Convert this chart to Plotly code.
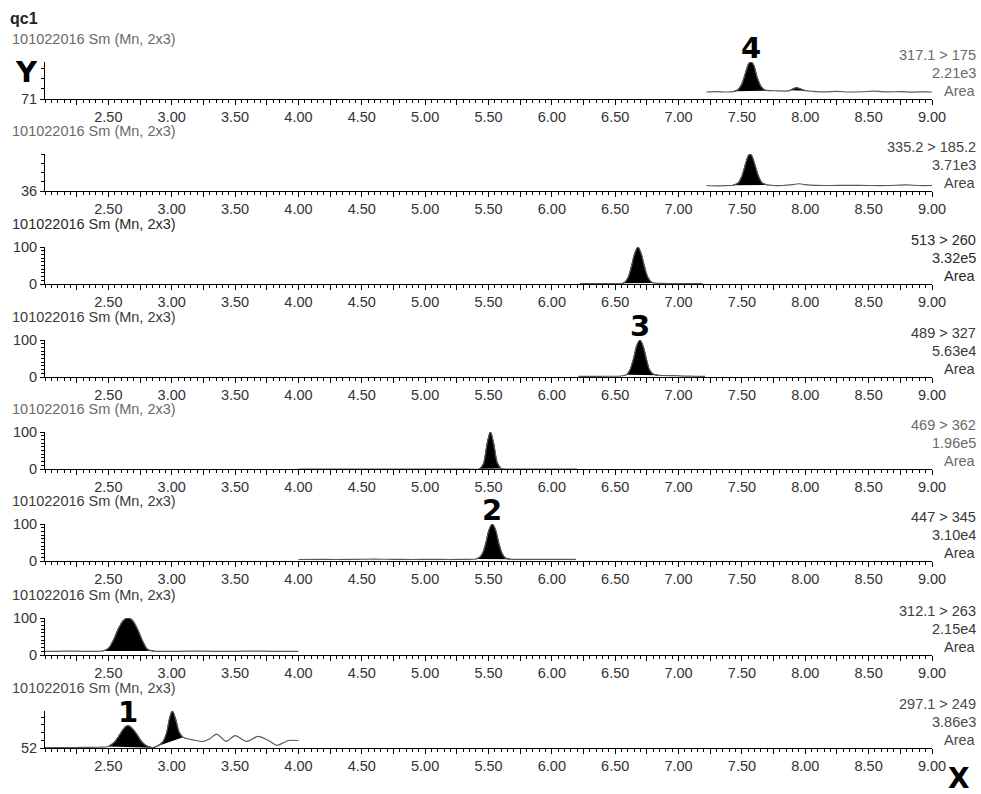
import plotly.graph_objects as go

# ---------------------------------------------------------------------------
# MRM chromatograms, sample qc1 (retention time in minutes, relative intensity)
# ---------------------------------------------------------------------------
sample_name = "qc1"
run_header = "101022016 Sm (Mn, 2x3)"

transitions = ["317.1 > 175", "335.2 > 185.2", "513 > 260", "489 > 327",
               "469 > 362", "447 > 345", "312.1 > 263", "297.1 > 249"]
areas = ["2.21e3", "3.71e3", "3.32e5", "5.63e4", "1.96e5", "3.10e4", "2.15e4", "3.86e3"]
axis_floor = [71, 36, 0, 0, 0, 0, 0, 52]

x_tick_labels = ["2.50", "3.00", "3.50", "4.00", "4.50", "5.00", "5.50",
                 "6.00", "6.50", "7.00", "7.50", "8.00", "8.50", "9.00"]

# 317.1 > 175
t_317 = [7.22, 7.30, 7.38, 7.44, 7.47, 7.50, 7.53, 7.555, 7.575, 7.595, 7.62, 7.65,
         7.68, 7.72, 7.78, 7.84, 7.88, 7.91, 7.935, 7.96, 8.00, 8.06, 8.15, 8.25,
         8.35, 8.45, 8.55, 8.65, 8.75, 8.85, 8.95, 9.00]
i_317 = [76.5, 76.8, 76.5, 77.0, 78.5, 83, 92, 99, 100, 97, 88, 81,
         78, 77.6, 77.4, 77.2, 77.8, 79.3, 79.8, 79, 77.5, 77, 76.6, 76.9,
         76.5, 76.7, 77.1, 76.6, 76.8, 76.4, 76.6, 76.5]
peaks_317 = [(7.44, 7.72), (7.88, 8.00)]

# 335.2 > 185.2
t_335 = [7.22, 7.30, 7.38, 7.43, 7.47, 7.50, 7.53, 7.55, 7.565, 7.58, 7.60, 7.63,
         7.66, 7.70, 7.75, 7.82, 7.90, 7.95, 8.00, 8.08, 8.20, 8.35, 8.50, 8.65,
         8.80, 8.90, 9.00]
i_335 = [45.5, 45, 45.5, 46, 50, 62, 84, 97, 100, 96, 83, 62,
         50, 46.5, 45.5, 45.5, 47, 48.5, 47, 45.8, 45.5, 45.8, 45.5, 45.5,
         46.5, 45.5, 45.5]
peaks_335 = [(7.43, 7.70)]

# 513 > 260
t_513 = [6.22, 6.35, 6.48, 6.56, 6.58, 6.605, 6.63, 6.655, 6.68, 6.705, 6.73,
         6.755, 6.78, 6.80, 6.86, 6.95, 7.05, 7.19]
i_513 = [1, 1, 1.2, 2, 6, 20, 50, 84, 100, 82, 48,
         20, 7, 3, 1.5, 1.2, 1, 1]
peaks_513 = [(6.56, 6.80)]

# 489 > 327
t_489 = [6.21, 6.32, 6.44, 6.54, 6.59, 6.615, 6.645, 6.67, 6.695, 6.72, 6.745,
         6.77, 6.80, 6.84, 6.90, 6.97, 7.05, 7.13, 7.21]
i_489 = [1.5, 1.8, 2, 2.5, 6, 18, 50, 85, 100, 84, 50,
         20, 8, 4.5, 4, 3.5, 2.5, 2, 1.5]
peaks_489 = [(6.59, 6.84)]

# 469 > 362
t_469 = [4.00, 4.40, 4.80, 5.10, 5.30, 5.43, 5.46, 5.49, 5.515, 5.54, 5.57,
         5.60, 5.65, 5.80, 6.00, 6.20]
i_469 = [0, 0, 0, 0, 0, 0.5, 14, 70, 100, 70, 16,
         1.5, 0, 0, 0, 0]
peaks_469 = [(5.43, 5.60)]

# 447 > 345
t_447 = [4.00, 4.15, 4.30, 4.45, 4.60, 4.75, 4.90, 5.05, 5.20, 5.32, 5.40, 5.43,
         5.455, 5.48, 5.505, 5.53, 5.555, 5.58, 5.605, 5.63, 5.67, 5.75, 5.85,
         5.95, 6.10, 6.19]
i_447 = [4, 4.5, 4, 4.5, 5, 4.5, 4, 4.5, 4, 4.5, 5.5, 10,
         22, 50, 85, 100, 85, 50, 22, 9, 5, 4.5, 4.5,
         4.5, 4.5, 4.5]
peaks_447 = [(5.40, 5.67)]

# 312.1 > 263
t_312 = [2.00, 2.10, 2.20, 2.30, 2.40, 2.46, 2.50, 2.54, 2.58, 2.62, 2.655, 2.69,
         2.73, 2.77, 2.81, 2.86, 2.95, 3.05, 3.20, 3.35, 3.50, 3.65, 3.80, 3.90, 4.00]
i_312 = [10, 10, 10.5, 10, 10, 11, 18, 40, 72, 94, 100, 94,
         70, 38, 15, 10.5, 10, 10, 10.5, 10, 10, 10.5, 10, 10, 10]
peaks_312 = [(2.46, 2.86)]

# 297.1 > 249
t_297 = [2.00, 2.15, 2.30, 2.42, 2.50, 2.55, 2.60, 2.63, 2.655, 2.68, 2.72, 2.76,
         2.80, 2.85, 2.89, 2.93, 2.96, 2.985, 3.005, 3.03, 3.06, 3.09, 3.17, 3.25,
         3.30, 3.355, 3.43, 3.50, 3.59, 3.68, 3.76, 3.83, 3.92, 4.00]
i_297 = [52.5, 52.5, 52.8, 53, 54, 60, 72, 79, 81, 79, 71, 61,
         55, 52.3, 55, 60, 72, 92, 100, 90, 72, 66, 62.5, 60.5,
         64, 70, 60.5, 68, 60.5, 67, 62, 55.5, 61.7, 61.7]
peaks_297 = [(2.50, 2.85), (2.85, 3.09)]

channel_times = [t_317, t_335, t_513, t_489, t_469, t_447, t_312, t_297]
channel_intensity = [i_317, i_335, i_513, i_489, i_469, i_447, i_312, i_297]
channel_peaks = [peaks_317, peaks_335, peaks_513, peaks_489, peaks_469, peaks_447,
                 peaks_312, peaks_297]

# compound numbers marked above their peaks (channel index, retention time)
compound_ids = ["4", "3", "2", "1"]
compound_channel = [0, 3, 5, 7]
compound_rt = [7.575, 6.695, 5.53, 2.655]

# ---------------------------------------------------------------------------
# page geometry and styling
# ---------------------------------------------------------------------------
W, H = 981, 794
x_left_px, x_right_px = 45, 932
baseline_px = [99, 191, 284, 377, 469, 561, 655, 748]
panel_px = 37
y_minor_step = [8, 16, 10, 10, 10, 10, 10, 10]
header_color = ["#6a6a6a", "#6a6a6a", "#2a2a2a", "#3a3a3a", "#6a6a6a", "#3a3a3a", "#3a3a3a", "#4a4a4a"]
info_color = ["#6a6a6a", "#444444", "#2a2a2a", "#3a3a3a", "#6a6a6a", "#3a3a3a", "#3a3a3a", "#4a4a4a"]
FONT = "Liberation Sans, Arial, sans-serif"
BOLD = "DejaVu Sans, Verdana, sans-serif"

fig = go.Figure()
layout = dict(
    template="none",
    width=W, height=H, margin=dict(l=0, r=0, t=0, b=0, pad=0), autosize=False,
    paper_bgcolor="white", plot_bgcolor="white", showlegend=False,
    font=dict(family=FONT, size=14.5, color="#333333"),
)

x_tick_vals = [2.25 + 0.25 * k for k in range(28)]
label_map = {float(s): s for s in x_tick_labels}
x_tick_text = [label_map.get(round(v, 2), "") for v in x_tick_vals]

annotations = []
for k in range(8):
    n = k + 1
    xname = "x" if n == 1 else f"x{n}"
    yname = "y" if n == 1 else f"y{n}"
    base = baseline_px[k]
    ydom = [1 - base / H, 1 - (base - panel_px) / H]

    layout["xaxis" if n == 1 else f"xaxis{n}"] = dict(
        domain=[x_left_px / W, x_right_px / W], range=[2.0, 9.0], anchor=yname,
        automargin=False,
        showline=True, linecolor="black", linewidth=1, showgrid=False, zeroline=False,
        ticks="outside", ticklen=5, tickwidth=1, tickcolor="black",
        tickmode="array", tickvals=x_tick_vals, ticktext=x_tick_text,
        tickfont=dict(family=FONT, size=14.5, color="#333333"),
        minor=dict(ticks="outside", ticklen=3, tickwidth=1, tickcolor="black",
                   tickmode="linear", tick0=2.0, dtick=0.05, showgrid=False),
        fixedrange=True,
    )
    floor = axis_floor[k]
    if floor == 0:
        yvals, ytext = [0, 100], ["0", "100"]
    else:
        yvals, ytext = [floor], [str(floor)]
    layout["yaxis" if n == 1 else f"yaxis{n}"] = dict(
        domain=ydom, range=[floor, 100], anchor=xname,
        automargin=False,
        showline=True, linecolor="black", linewidth=1, showgrid=False, zeroline=False,
        ticks="outside", ticklen=4, tickwidth=1, tickcolor="black",
        tickmode="array", tickvals=yvals, ticktext=ytext,
        tickfont=dict(family=FONT, size=14.5, color="#333333"),
        minor=dict(ticks="outside", ticklen=3, tickwidth=1, tickcolor="black",
                   tickmode="linear", tick0=floor, dtick=y_minor_step[k], showgrid=False),
        fixedrange=True,
    )

    t = channel_times[k]
    inten = channel_intensity[k]

    # integrated peaks: trace segment closed by its straight baseline
    for (t0, t1) in channel_peaks[k]:
        seg = [(a, b) for a, b in zip(t, inten) if t0 - 1e-9 <= a <= t1 + 1e-9]
        fig.add_trace(go.Scatter(
            x=[p[0] for p in seg], y=[p[1] for p in seg], xaxis=xname, yaxis=yname,
            mode="lines", line=dict(color="black", width=1, shape="spline", smoothing=0.8),
            fill="toself", fillcolor="black", hoverinfo="skip",
        ))

    # full chromatogram trace
    fig.add_trace(go.Scatter(
        x=t, y=inten, xaxis=xname, yaxis=yname, mode="lines",
        line=dict(color="#5a5a5a", width=1.2, shape="spline", smoothing=0.8),
        hoverinfo="skip",
    ))

    # header line above each panel
    annotations.append(dict(
        xref="paper", yref="paper", x=10 / W, y=1 - (base - 60) / H,
        xanchor="left", yanchor="middle", showarrow=False, text=run_header,
        font=dict(family=FONT, size=14.5, color=header_color[k]),
    ))
    # transition / area / integration type, right aligned
    for j, s in enumerate([transitions[k], areas[k], "Area"]):
        annotations.append(dict(
            xref="paper", yref="paper", x=978 / W, y=1 - (base - 44 + 18 * j) / H,
            xanchor="right", yanchor="middle", showarrow=False, text=s,
            font=dict(family=FONT, size=14.5, color=info_color[k]),
        ))

# compound numbers
for cid, ch, rt in zip(compound_ids, compound_channel, compound_rt):
    n = ch + 1
    t = channel_times[ch]
    inten = channel_intensity[ch]
    top = max(b for a, b in zip(t, inten) if abs(a - rt) <= 0.06)
    annotations.append(dict(
        xref="x" if n == 1 else f"x{n}", yref="y" if n == 1 else f"y{n}",
        x=rt, y=top, xanchor="center", yanchor="bottom", yshift=-5,
        showarrow=False, text=f"<b>{cid}</b>",
        font=dict(family=BOLD, size=29, color="black"),
    ))

# sample name and axis letters
annotations.append(dict(
    xref="paper", yref="paper", x=8 / W, y=1 - 19 / H, xanchor="left", yanchor="middle",
    showarrow=False, text=f"<b>{sample_name}</b>",
    font=dict(family=FONT, size=16, color="#222222"),
))
annotations.append(dict(
    xref="paper", yref="paper", x=26 / W, y=1 - 72 / H, xanchor="center", yanchor="middle",
    showarrow=False, text="<b>Y</b>", font=dict(family=BOLD, size=29, color="black"),
))
annotations.append(dict(
    xref="paper", yref="paper", x=959 / W, y=1 - 778 / H, xanchor="center", yanchor="middle",
    showarrow=False, text="<b>X</b>", font=dict(family=BOLD, size=28, color="black"),
))

layout["annotations"] = annotations
fig.update_layout(**layout)
fig.write_html("out.html")
